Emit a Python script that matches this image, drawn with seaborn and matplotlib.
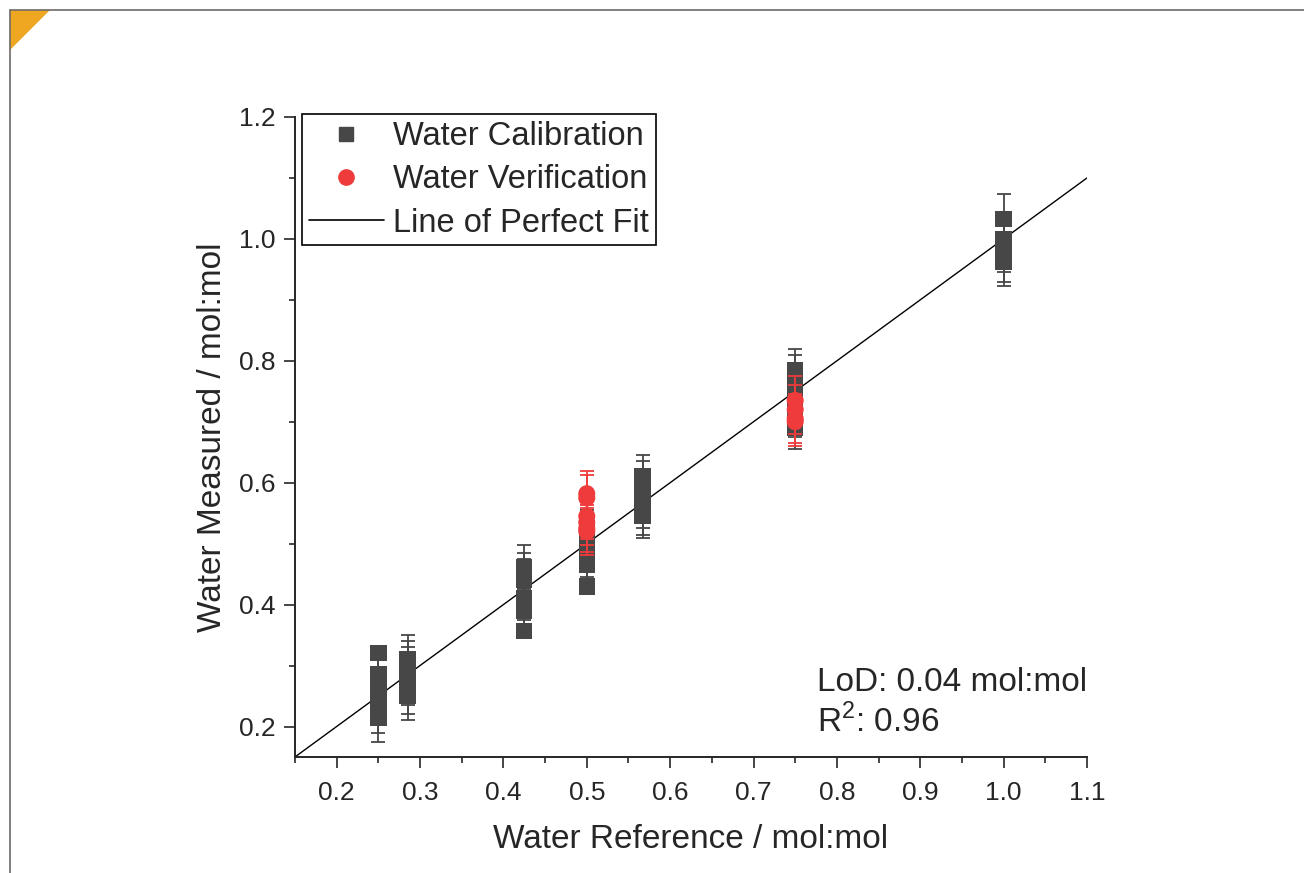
#!/usr/bin/env python3
# -*- coding: utf-8 -*-
"""Water calibration / verification against reference, with line of perfect fit."""

import numpy as np
import pandas as pd
import seaborn as sns
import matplotlib.pyplot as plt
from matplotlib.lines import Line2D
from matplotlib.patches import Polygon

# %% Data

# calibration points: reference value, measured value, error
cal_ref = [0.25, 0.25, 0.25, 0.25, 0.25, 0.25,
           0.285, 0.285, 0.285, 0.285, 0.285, 0.285,
           0.425, 0.425, 0.425, 0.425, 0.425, 0.425, 0.425,
           0.5, 0.5, 0.5, 0.5, 0.5,
           0.567, 0.567, 0.567, 0.567, 0.567, 0.567, 0.567,
           0.75, 0.75, 0.75, 0.75, 0.75, 0.75, 0.75,
           1.0, 1.0, 1.0, 1.0, 1.0]
cal_meas = [0.321, 0.285, 0.27, 0.25, 0.23, 0.215,
            0.31, 0.30, 0.29, 0.275, 0.26, 0.25,
            0.462, 0.45, 0.44, 0.41, 0.40, 0.39, 0.357,
            0.52, 0.50, 0.48, 0.465, 0.43,
            0.61, 0.60, 0.585, 0.57, 0.56, 0.55, 0.545,
            0.785, 0.775, 0.76, 0.745, 0.73, 0.71, 0.69,
            1.033, 1.0, 0.985, 0.97, 0.962]
cal_err = [0.004, 0.04, 0.04, 0.04, 0.04, 0.04,
           0.04, 0.04, 0.04, 0.04, 0.04, 0.04,
           0.035, 0.035, 0.035, 0.035, 0.035, 0.035, 0.004,
           0.035, 0.035, 0.035, 0.035, 0.004,
           0.035, 0.035, 0.035, 0.035, 0.035, 0.035, 0.035,
           0.035, 0.035, 0.035, 0.035, 0.035, 0.035, 0.035,
           0.04, 0.04, 0.04, 0.04, 0.04]

# verification points
ver_ref = [0.5, 0.5, 0.5, 0.5, 0.5, 0.5,
           0.75, 0.75, 0.75, 0.75]
ver_meas = [0.582, 0.575, 0.545, 0.535, 0.525, 0.52,
            0.735, 0.72, 0.705, 0.70]
ver_err = [0.038, 0.038, 0.038, 0.038, 0.038, 0.038,
           0.04, 0.04, 0.04, 0.04]

# line of perfect fit
fit_ref = [0.15, 1.1]

# annotation
str_lod = 'LoD: 0.04 mol:mol'
str_r2 = 'R$^2$: 0.96'

# colours
col_cal = '#474747'
col_ver = '#ef3b3b'

# %% Plot

sns.set_style('ticks')
plt.rcParams['font.family'] = ['Liberation Sans', 'DejaVu Sans']
plt.rcParams['mathtext.fontset'] = 'custom'
plt.rcParams['mathtext.rm'] = 'Liberation Sans'

df_cal = pd.DataFrame({'ref': cal_ref, 'meas': cal_meas, 'err': cal_err})
df_ver = pd.DataFrame({'ref': ver_ref, 'meas': ver_meas, 'err': ver_err})
df_fit = pd.DataFrame({'ref': fit_ref, 'meas': fit_ref})

fig = plt.figure(figsize=(13.04, 8.73), dpi=100)
ax = fig.add_axes([0.2262, 0.1329, 0.6074, 0.7331])

# line of perfect fit
sns.lineplot(data=df_fit, x='ref', y='meas', color='black', linewidth=1.0,
             ax=ax, zorder=1)

# calibration
ax.errorbar(df_cal['ref'], df_cal['meas'], yerr=df_cal['err'], fmt='none',
            ecolor=col_cal, elinewidth=1.3, capsize=5.2, capthick=1.3,
            zorder=2)
sns.scatterplot(data=df_cal, x='ref', y='meas', color=col_cal, marker='s',
                s=140, edgecolor='none', ax=ax, zorder=3)

# verification
ax.errorbar(df_ver['ref'], df_ver['meas'], yerr=df_ver['err'], fmt='none',
            ecolor=col_ver, elinewidth=1.3, capsize=5.2, capthick=1.3,
            zorder=4)
sns.scatterplot(data=df_ver, x='ref', y='meas', color=col_ver, marker='o',
                s=150, edgecolor='none', ax=ax, zorder=5)

ax.set_xlim(0.15, 1.1)
ax.set_ylim(0.15, 1.2)
ax.set_xticks(np.arange(0.2, 1.11, 0.1))
ax.set_xticks(np.arange(0.15, 1.11, 0.05), minor=True)
ax.set_yticks(np.arange(0.2, 1.21, 0.2))
ax.set_yticks(np.arange(0.2, 1.21, 0.1), minor=True)
ax.set_xticklabels(['%.1f' % v for v in np.arange(0.2, 1.11, 0.1)])
ax.set_yticklabels(['%.1f' % v for v in np.arange(0.2, 1.21, 0.2)])
ax.tick_params(which='major', direction='out', length=8, width=1.2,
               labelsize=19, labelcolor='#262626', color='#262626')
ax.tick_params(axis='x', which='major', pad=9)
ax.tick_params(axis='y', which='major', pad=6)
ax.tick_params(which='minor', direction='out', length=4.5, width=1.2,
               color='#262626')
sns.despine(ax=ax)
for side in ['left', 'bottom']:
    ax.spines[side].set_linewidth(1.4)
    ax.spines[side].set_color('#262626')

ax.set_xlabel('Water Reference / mol:mol', fontsize=24, color='#262626',
              labelpad=14)
ax.set_ylabel('Water Measured / mol:mol', fontsize=24, color='#262626',
              labelpad=8)

ax.text(0.659, 0.116, str_lod, transform=ax.transAxes, fontsize=24,
        va='center', ha='left', color='#262626')
ax.text(0.659, 0.055, str_r2, transform=ax.transAxes, fontsize=24,
        va='center', ha='left', color='#262626')

# legend
lst_handles = [
    Line2D([], [], color=col_cal, marker='s', markersize=10, linestyle='none'),
    Line2D([], [], color=col_ver, marker='o', markersize=11, linestyle='none'),
    Line2D([], [], color='black', linewidth=1.2)]
lst_labels = ['Water Calibration', 'Water Verification', 'Line of Perfect Fit']
leg = ax.legend(lst_handles, lst_labels, loc='upper left',
                bbox_to_anchor=(0.009, 1.004), borderaxespad=0, fontsize=23.5,
                frameon=True, fancybox=False, edgecolor='black',
                framealpha=1, borderpad=0.2, labelspacing=0.38,
                handlelength=2.3, handletextpad=0.3)
leg.get_frame().set_linewidth(1.2)

# page frame with orange corner
fig.add_artist(Line2D([10 / 1304, 1.0], [1 - 10 / 873, 1 - 10 / 873],
                      transform=fig.transFigure, color='#6e6a6a',
                      linewidth=1.2))
fig.add_artist(Line2D([10 / 1304, 10 / 1304], [0.0, 1 - 10 / 873],
                      transform=fig.transFigure, color='#6e6a6a',
                      linewidth=1.2))
fig.add_artist(Polygon([[10 / 1304, 1 - 10 / 873], [50 / 1304, 1 - 10 / 873],
                        [10 / 1304, 1 - 50 / 873]], closed=True,
                       transform=fig.transFigure, facecolor='#efa722',
                       edgecolor='none'))

fig.savefig('out.png', dpi=100)
